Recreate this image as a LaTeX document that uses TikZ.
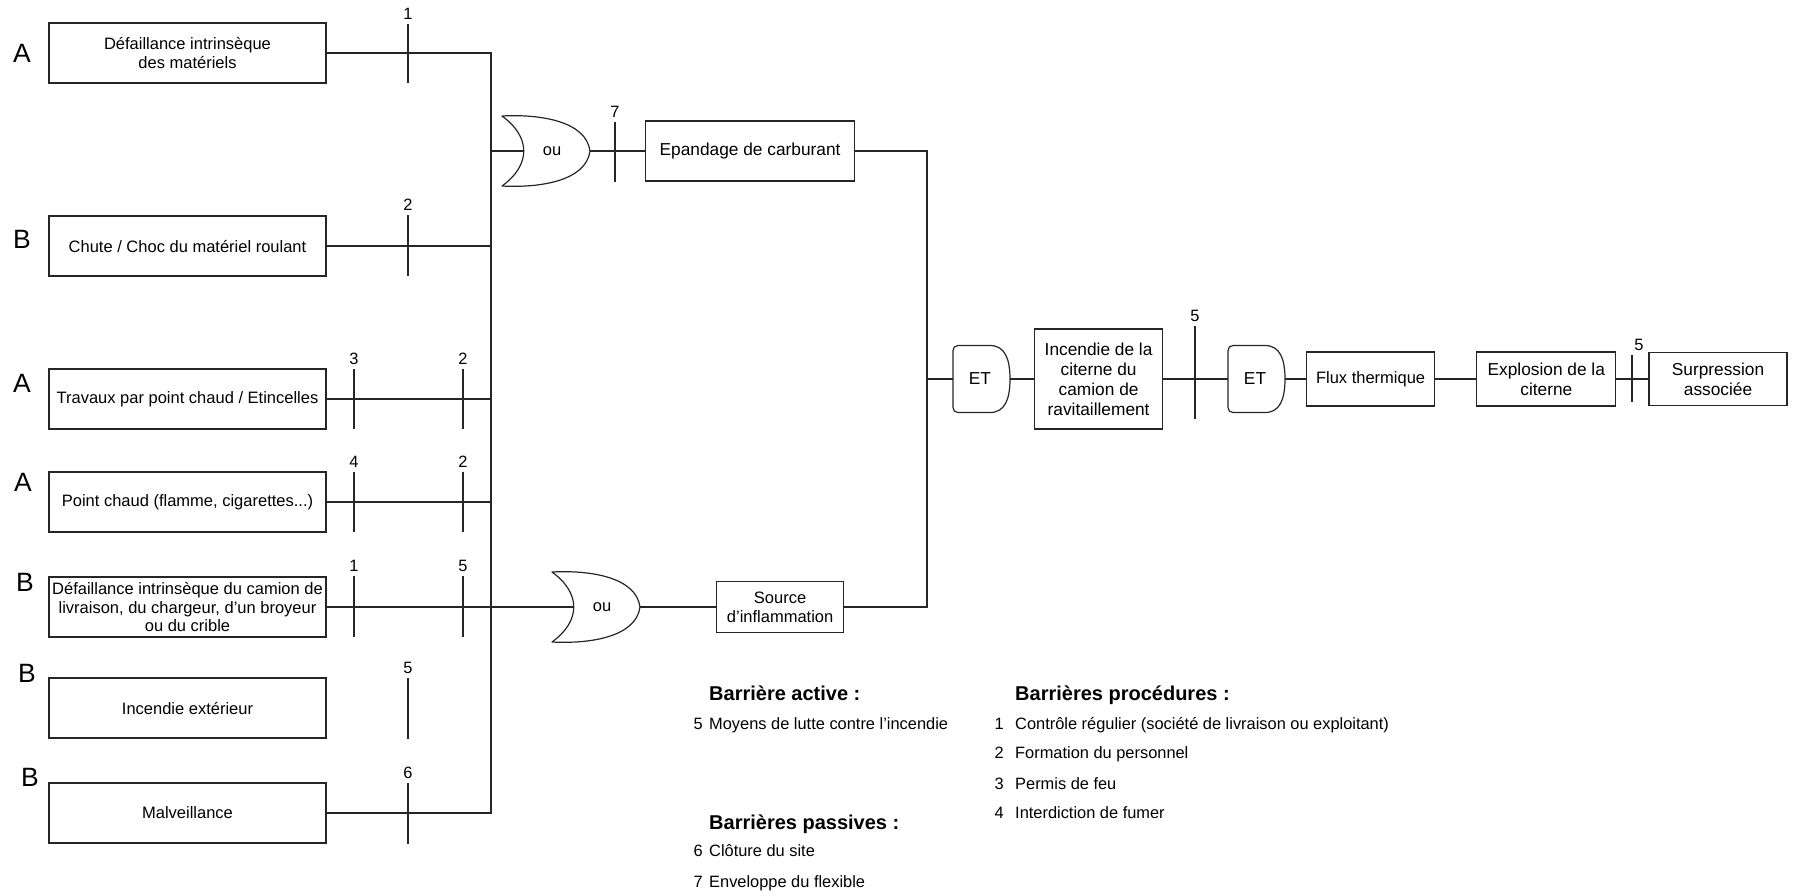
\documentclass[tikz,border=0pt]{standalone}
\usepackage{fontspec}
\setmainfont{Liberation Sans}
\usetikzlibrary{positioning}

\tikzset{
  trait/.style={line width=1.2pt, draw=black!85},
  evt/.style={trait, minimum width=277pt, minimum height=60pt, inner sep=2pt, align=center, font=\fontsize{16.5}{18.5}\selectfont},
  res/.style={trait, inner sep=2pt, align=center, font=\fontsize{17.3}{20}\selectfont},
  lettre/.style={inner sep=0pt, text height=19pt, text depth=0pt, font=\fontsize{26.5}{28}\selectfont},
  num/.style={inner sep=0pt, text height=11.7pt, text depth=0pt, font=\fontsize{16.4}{18}\selectfont},
  titre/.style={anchor=west, inner sep=0pt, text height=14.3pt, text depth=0pt, font=\bfseries\fontsize{20}{22}\selectfont},
  % porte OU
  ougate/.pic={
    \draw[trait, fill=white, line join=round] (0,-35) .. controls (38,-37) and (84,-30) .. (88,0)
      .. controls (84,30) and (38,37) .. (0,35)
      .. controls (29,14) and (29,-14) .. (0,-35) -- cycle;
    \coordinate (-in) at (21.75,0);
    \coordinate (-out) at (88,0);
    \node[font=\fontsize{16.5}{18}\selectfont] (-txt) at (50,0) {ou};
  },
  % porte ET
  etgate/.pic={
    \draw[trait, fill=white] (37,-33.5) -- (5,-33.5) .. controls (2,-33.5) and (0,-31.5) .. (0,-28.5)
      -- (0,28.5) .. controls (0,31.5) and (2,33.5) .. (5,33.5) -- (37,33.5)
      .. controls (52,33.5) and (57,20) .. (57,0) .. controls (57,-20) and (52,-33.5) .. (37,-33.5) -- cycle;
    \coordinate (-in) at (0,0);
    \coordinate (-out) at (57,0);
    \node[font=\fontsize{17.3}{19}\selectfont] (-txt) at (27,0) {ET};
  },
}

\begin{document}
\begin{tikzpicture}[x=1pt, y=-1pt]
\useasboundingbox (0,0) rectangle (1796,895);

% evenements initiaux
\node[evt, font=\fontsize{16.5}{19.5}\selectfont] (defmat) at (187.5,53) {Défaillance intrinsèque\\des matériels};
\node[evt] (chute) at (187.5,246) {Chute / Choc du matériel roulant};
\node[evt] (travaux) at (187.5,399) {Travaux par point chaud / Etincelles};
\node[evt] (ptchaud) at (187.5,502) {Point chaud (flamme, cigarettes...)};
\node[evt] (defcam) at (187.5,607) {Défaillance intrinsèque du camion de\\livraison, du chargeur, d’un broyeur\\ou du crible};
\node[evt] (incext) at (187.5,708) {Incendie extérieur};
\node[evt] (malv) at (187.5,813) {Malveillance};

\foreach \nom/\x/\y/\l in {l1/22/53/A, l2/22/239/B, l3/22/383/A, l4/23/482/A, l5/25/582/B, l6/27/673/B, l7/30/777/B}
  \node[lettre] (\nom) at (\x,\y) {\l};

% portes
\pic (ou1) at (502,151) {ougate};
\pic (ou2) at (552,607) {ougate};
\pic (et1) at (953,379) {etgate};
\pic (et2) at (1228,379) {etgate};

\node[res, minimum width=209pt, minimum height=60pt, right=55pt of ou1-out] (epandage) {Epandage de carburant};
\node[res, minimum width=127pt, minimum height=51pt, font=\fontsize{16.5}{19}\selectfont, right=76pt of ou2-out] (source) {Source\\d’inflammation};
\node[res, minimum width=128pt, minimum height=100pt, right=24pt of et1-out] (incendie) {Incendie de la\\citerne du\\camion de\\ravitaillement};
\node[res, minimum width=128pt, minimum height=54pt, font=\fontsize{16.5}{19}\selectfont, right=21pt of et2-out] (flux) {Flux thermique};
\node[res, minimum width=139pt, minimum height=54pt, right=41pt of flux] (explosion) {Explosion de la\\citerne};
\node[res, minimum width=138pt, minimum height=53pt, right=32pt of explosion] (surpression) {Surpression\\associée};

% liaisons
\coordinate (bus) at (491,0);
\coordinate (jct) at (927,379);
\draw[trait] (defmat.east) -- (defmat.east -| bus) -- (malv.east -| bus) -- (malv.east);
\foreach \d in {chute,travaux,ptchaud}
  \draw[trait] (\d.east) -- (\d.east -| bus);
\draw[trait] (defcam.east) -- (ou2-in);
\draw[trait] (ou1-in -| bus) -- (ou1-in);
\draw[trait] (ou1-out) -- (epandage.west);
\draw[trait] (ou2-out) -- (source.west);
\draw[trait] (epandage.east) -| (jct) |- (source.east);
\draw[trait] (jct) -- (et1-in);
\draw[trait] (et1-out) -- (incendie.west);
\draw[trait] (incendie.east) -- (et2-in);
\draw[trait] (et2-out) -- (flux.west);
\draw[trait] (flux.east) -- (explosion.west);
\draw[trait] (explosion.east) -- (surpression.west);

% barrieres
\foreach \x/\ya/\yb/\n/\dx [count=\i] in {408/24/83/1/0, 408/215/276/2/0, 354/369/429/3/0, 463/369/429/2/0,
    354/472/532/4/0, 463/472/532/2/0, 354/576/637/1/0, 463/576/637/5/0, 408/678/739/5/0,
    408/783/844/6/0, 615/122/182/7/0, 1195/326/419/5/0, 1632/355/402/5/7}{
  \draw[trait] (\x,\ya) -- (\x,\yb);
  \node[num, anchor=south] (b\i) at (\x+\dx,\ya-4) {\n};
}

% legende
\node[titre] (tactive) at (709,693) {Barrière active :};
\node[num, anchor=east] (n5) at (703,724) {5};
\node[num, anchor=west] (t5) at (709,724) {Moyens de lutte contre l’incendie};
\node[titre] (tpassive) at (709,822) {Barrières passives :};
\node[num, anchor=east] (n6) at (703,851) {6};
\node[num, anchor=west] (t6) at (709,851) {Clôture du site};
\node[num, anchor=east] (n7) at (703,882) {7};
\node[num, anchor=west] (t7) at (709,882) {Enveloppe du flexible};
\node[titre] (tproc) at (1015,693) {Barrières procédures :};
\foreach \n/\y/\txt in {1/724/Contrôle régulier (société de livraison ou exploitant), 2/753/Formation du personnel,
    3/784/Permis de feu, 4/813/Interdiction de fumer}{
  \node[num, anchor=east] (pn\n) at (1004,\y) {\n};
  \node[num, anchor=west] (pt\n) at (1015,\y) {\txt};
}
\end{tikzpicture}
\end{document}
